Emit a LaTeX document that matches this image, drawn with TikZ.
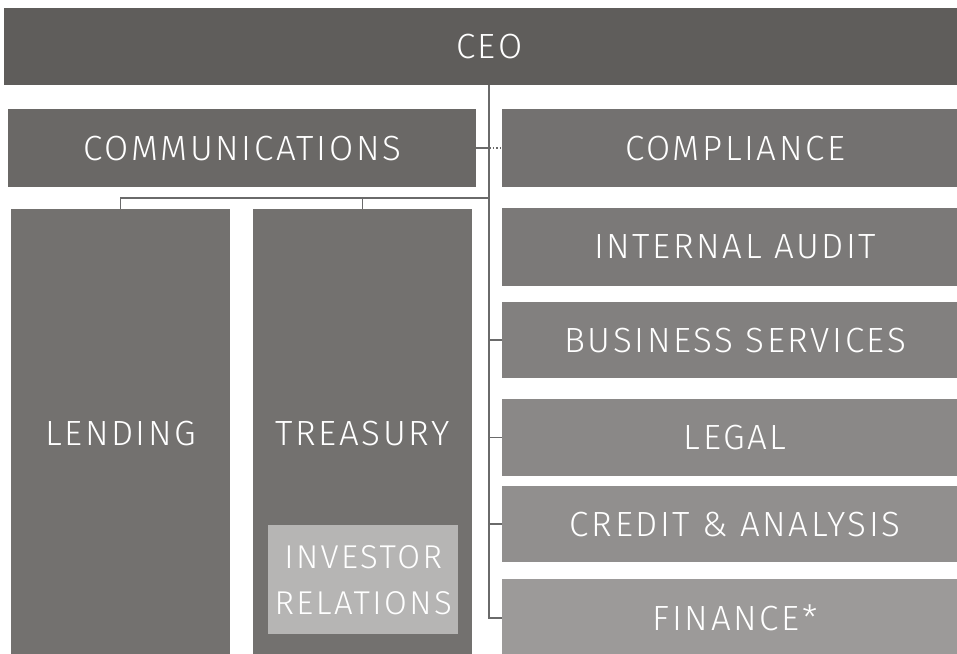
\documentclass[tikz,border=0pt]{standalone}
\usepackage{fontspec}
\setmainfont{Fira Sans}[UprightFont=* Light, LetterSpace=7.5]
\usetikzlibrary{positioning}
\definecolor{ceofill}{HTML}{5F5D5B}
\definecolor{commfill}{HTML}{6A6866}
\definecolor{compfill}{HTML}{737170}
\definecolor{auditfill}{HTML}{7B7978}
\definecolor{busfill}{HTML}{82807F}
\definecolor{legalfill}{HTML}{8A8887}
\definecolor{creditfill}{HTML}{918F8E}
\definecolor{finfill}{HTML}{9C9A99}
\definecolor{unitfill}{HTML}{73716F}
\definecolor{irfill}{HTML}{B6B5B4}
\definecolor{linkgray}{HTML}{6A6A6A}

\begin{document}
\begin{tikzpicture}[x=1pt,y=-1pt]
  \tikzstyle{unit}=[anchor=north west, inner sep=0pt, text=white,
    font=\fontsize{35}{41}\selectfont]
  \tikzstyle{link}=[draw=linkgray, line width=1.5pt]
  \useasboundingbox (0,0) rectangle (957,653);
  \node[unit, fill=ceofill, minimum width=970pt, minimum height=77pt] (ceo) at (4,8) {CEO};
  \node[unit, fill=commfill, minimum width=468pt, minimum height=78pt] (comm) at (8,109) {COMMUNICATIONS};
  \node[unit, fill=compfill, minimum width=466pt, minimum height=78pt] (compl) at (502,109) {COMPLIANCE};
  \node[unit, fill=auditfill, minimum width=466pt, minimum height=78pt] (audit) at (502,208) {INTERNAL AUDIT};
  \node[unit, fill=busfill, minimum width=466pt, minimum height=76pt] (bus) at (502,302) {BUSINESS SERVICES};
  \node[unit, fill=legalfill, minimum width=466pt, minimum height=77pt] (legal) at (502,399) {LEGAL};
  \node[unit, fill=creditfill, minimum width=466pt, minimum height=76pt] (credit) at (502,486) {CREDIT \& ANALYSIS};
  \node[unit, fill=finfill, minimum width=466pt, minimum height=78pt] (fin) at (502,579) {FINANCE*};
  \node[unit, fill=unitfill, minimum width=219pt, minimum height=448pt] (lend) at (11,209) {LENDING};
  \node[unit, fill=unitfill, minimum width=219pt, minimum height=448pt] (treas) at (253,209) {TREASURY};
  \node[unit, fill=irfill, minimum width=190pt, minimum height=109pt, align=center,
    font=\fontsize{33}{46}\selectfont] (ir) at (268,525) {INVESTOR\\RELATIONS};
  \coordinate (trunk) at (489,85);
  \coordinate (trunkend) at (489,618);
  \coordinate (bar) at (489,198);
  \draw[link] (trunk) -- (trunkend) -- (fin.west |- trunkend);
  \draw[link] (comm.east) -- (comm.east -| trunk);
  \draw[link, dotted] (comm.east -| trunk) -- (compl.west);
  \draw[link] (bar) -- (bar -| lend.north) -- (lend.north);
  \draw[link] (bar -| treas.north) -- (treas.north);
  \draw[link] (bus.west -| trunk) -- (bus.west);
  \draw[link] (legal.west -| trunk) -- (legal.west);
  \draw[link] (credit.west -| trunk) -- (credit.west);
\end{tikzpicture}
\end{document}
